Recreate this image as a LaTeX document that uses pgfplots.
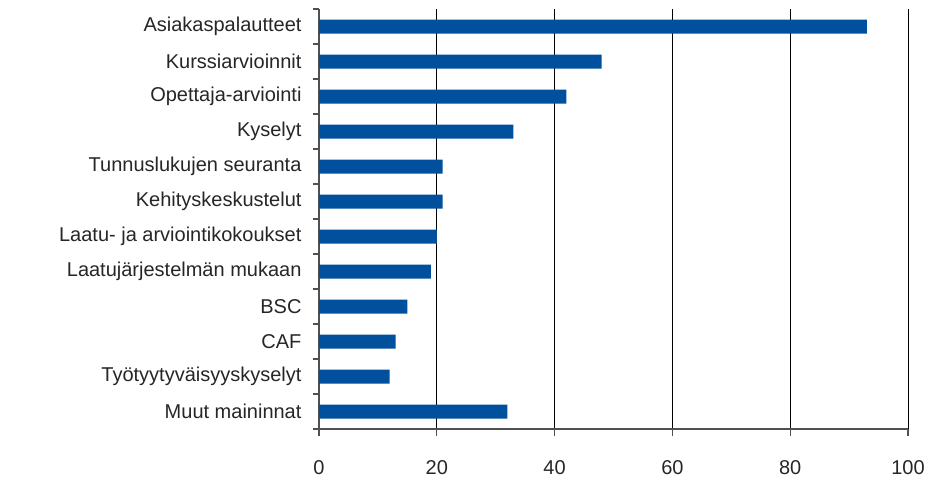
\documentclass[border=0pt]{standalone}
\usepackage{fontspec}
\setmainfont{Liberation Sans}
\usepackage{pgfplots}
\pgfplotsset{compat=1.18}
\definecolor{barblue}{RGB}{0,80,158}
\definecolor{axgray}{RGB}{80,80,80}
\begin{document}
\begin{tikzpicture}
\path[use as bounding box] (-319pt,-50pt) rectangle (608pt,429pt);
\begin{axis}[
  at={(0pt,0pt)}, anchor=south west,
  scale only axis,
  width=589pt, height=420pt,
  xbar, bar width=14pt,
  xmin=0, xmax=100,
  ymin=-0.5, ymax=11.5,
  y dir=reverse,
  axis x line*=bottom, axis y line*=left,
  axis line style={axgray, line width=1.1pt},
  xtick={0,20,40,60,80,100},
  ytick={0,...,11},
  yticklabels={Asiakaspalautteet,Kurssiarvioinnit,Opettaja-arviointi,Kyselyt,Tunnuslukujen seuranta,Kehityskeskustelut,Laatu- ja arviointikokoukset,Laatujärjestelmän mukaan,BSC,CAF,Työtyytyväisyyskyselyt,Muut maininnat},
  minor ytick={-0.5,0.5,...,11.5},
  tick align=outside,
  major tick length=7pt,
  minor tick length=6pt,
  every major y tick/.style={draw=none},
  tick style={axgray, line width=1.1pt},
  xmajorgrids,
  grid style={black, line width=1pt},
  /pgf/number format/assume math mode=true,
  tick label style={font=\fontsize{20}{24}\selectfont, text=black!85},
  xticklabel style={yshift=-21pt},
  yticklabel style={xshift=-7pt},
  clip=false,
]
\addplot[fill=barblue, draw=none] coordinates {
 (93,0) (48,1) (42,2) (33,3) (21,4) (21,5) (20,6) (19,7) (15,8) (13,9) (12,10) (32,11)
};
\end{axis}
\end{tikzpicture}
\end{document}
